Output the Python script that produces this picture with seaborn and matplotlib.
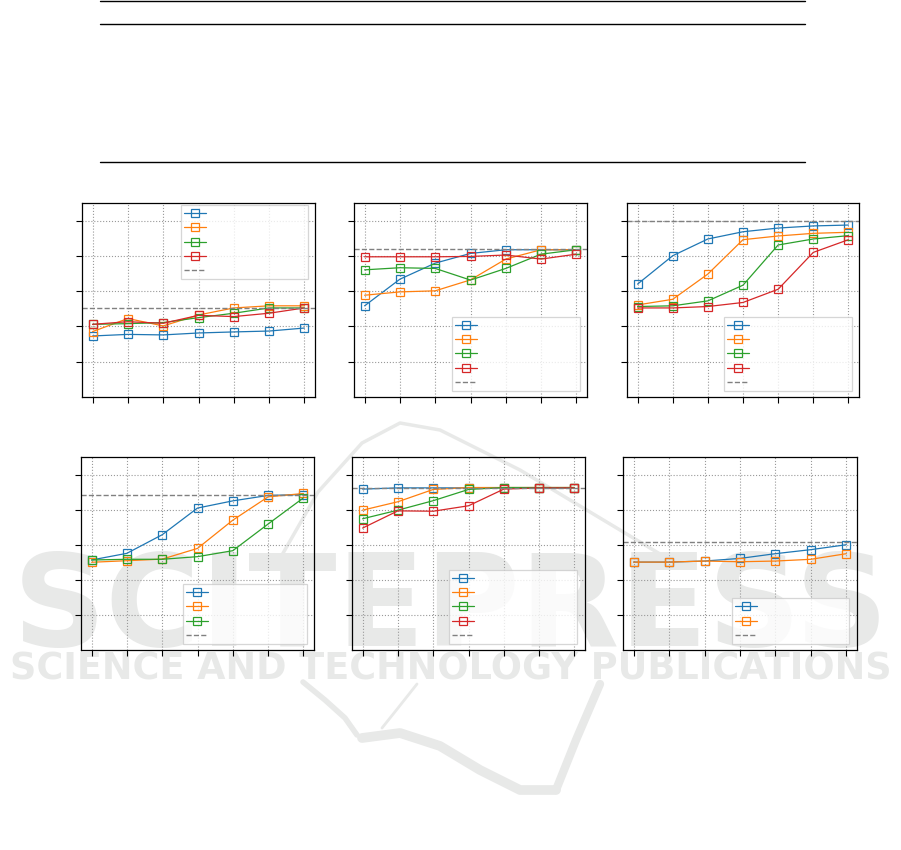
import matplotlib
matplotlib.use("Agg")
import pandas as pd
import matplotlib.pyplot as plt
import seaborn as sns
from matplotlib.lines import Line2D

# ==========================================================
# DATA
# ==========================================================

STEPS = [0, 1, 2, 3, 4, 5, 6]
Y_TICKS = [0.2, 0.4, 0.6, 0.8, 1.0]

# top row, left
A_S1 = [0.346, 0.355, 0.352, 0.363, 0.369, 0.374, 0.391]
A_S2 = [0.371, 0.445, 0.403, 0.465, 0.505, 0.517, 0.517]
A_S3 = [0.412, 0.416, 0.422, 0.450, 0.475, 0.505, 0.505]
A_S4 = [0.412, 0.427, 0.418, 0.463, 0.456, 0.475, 0.505]
A_REF = 0.507

# top row, middle
B_S1 = [0.517, 0.668, 0.759, 0.814, 0.835, 0.835, 0.835]
B_S2 = [0.577, 0.596, 0.602, 0.664, 0.782, 0.835, 0.835]
B_S3 = [0.721, 0.733, 0.729, 0.663, 0.729, 0.810, 0.835]
B_S4 = [0.795, 0.795, 0.795, 0.797, 0.805, 0.782, 0.810]
B_REF = 0.837

# top row, right
C_S1 = [0.640, 0.801, 0.896, 0.937, 0.958, 0.970, 0.975]
C_S2 = [0.522, 0.554, 0.697, 0.892, 0.913, 0.928, 0.934]
C_S3 = [0.513, 0.517, 0.545, 0.634, 0.862, 0.896, 0.915]
C_S4 = [0.505, 0.505, 0.513, 0.536, 0.611, 0.820, 0.892]
C_REF = 0.996

# bottom row, left
D_S1 = [0.513, 0.551, 0.657, 0.809, 0.850, 0.881, 0.886]
D_S2 = [0.500, 0.509, 0.518, 0.579, 0.740, 0.873, 0.892]
D_S3 = [0.513, 0.517, 0.517, 0.532, 0.566, 0.718, 0.867]
D_REF = 0.886

# bottom row, middle
E_S1 = [0.917, 0.924, 0.924, 0.924, 0.924, 0.924, 0.924]
E_S2 = [0.797, 0.845, 0.915, 0.926, 0.926, 0.926, 0.926]
E_S3 = [0.748, 0.797, 0.851, 0.915, 0.926, 0.926, 0.926]
E_S4 = [0.695, 0.793, 0.791, 0.822, 0.917, 0.924, 0.924]
E_REF = 0.926

# bottom row, right
F_S1 = [0.501, 0.501, 0.507, 0.522, 0.549, 0.572, 0.600]
F_S2 = [0.501, 0.501, 0.507, 0.503, 0.507, 0.517, 0.549]
F_REF = 0.613

# ==========================================================
# STYLE
# ==========================================================

sns.set_style("ticks")
plt.rcParams["font.family"] = ["DejaVu Sans"]

COLORS = sns.color_palette("tab10", 4)
WM_COLOR = "#e8e9e8"
W, H = 901, 850
MS = 5.8


def fig_rect(left, top, right, bottom):
    return [left / W, 1 - bottom / H, (right - left) / W, (bottom - top) / H]


def px_line(points, width):
    xs = [p[0] / W for p in points]
    ys = [1 - p[1] / H for p in points]
    return Line2D(xs, ys, color=WM_COLOR, linewidth=width,
                  solid_capstyle="round", solid_joinstyle="round",
                  transform=fig.transFigure, zorder=-6)


def draw_panel(ax, series, ref, leg_anchor, leg_loc):

    ax.set_facecolor("none")
    handles = []

    for values, color in zip(series, COLORS):
        df = pd.DataFrame({"step": STEPS, "value": values})
        sns.lineplot(
            data=df, x="step", y="value", ax=ax,
            color=color, linewidth=0.9,
            marker="s", markersize=MS,
            markerfacecolor="none", markeredgecolor=color, markeredgewidth=0.9
        )
        handles.append(Line2D([], [], color=color, linewidth=0.9, marker="s",
                              markersize=MS, markerfacecolor="none",
                              markeredgecolor=color, markeredgewidth=0.9))

    ax.axhline(ref, color="0.5", linestyle="--", linewidth=1.0)
    handles.append(Line2D([], [], color="0.5", linestyle="--", linewidth=1.0))

    ax.set_xlim(-0.3, 6.3)
    ax.set_ylim(0, 1.1)
    ax.set_xticks(STEPS)
    ax.set_yticks(Y_TICKS)
    ax.set_xlabel("")
    ax.set_ylabel("")
    ax.tick_params(labelbottom=False, labelleft=False, length=4,
                   width=0.8, direction="out", color="black")
    ax.grid(True, linestyle=":", color="0.6", linewidth=0.8)
    for sp in ax.spines.values():
        sp.set_linewidth(0.9)
        sp.set_color("black")

    leg = ax.legend(
        handles, [" "] * len(handles),
        loc=leg_loc, bbox_to_anchor=leg_anchor, mode="expand",
        borderaxespad=0, fontsize=7, handlelength=2.2,
        labelspacing=0.45, borderpad=0.35,
        fancybox=False, edgecolor="0.8", framealpha=0.8
    )
    leg.get_frame().set_linewidth(0.9)


# ==========================================================
# FIGURE
# ==========================================================

fig = plt.figure(figsize=(W / 100, H / 100), dpi=100)

# faint publisher watermark behind everything
wm1 = fig.text(0.5, 1 - 646 / H, "SCITEPRESS", ha="center", va="baseline",
               fontsize=88, fontweight="bold", color=WM_COLOR, zorder=-5)
wm2 = fig.text(0.5, 1 - 679 / H, "SCIENCE AND TECHNOLOGY PUBLICATIONS",
               ha="center", va="baseline", fontsize=22, fontweight="bold",
               color=WM_COLOR, zorder=-5)

# rough logo strokes of the watermark
logo = [
    ([(282, 555), (318, 492), (362, 443), (400, 423), (440, 430),
      (520, 470), (600, 518), (680, 566)], 2.5),
    ([(303, 682), (325, 700), (345, 718), (357, 735)], 4),
    ([(362, 738), (400, 733), (440, 746), (480, 770), (520, 790),
      (556, 790)], 7),
    ([(556, 790), (576, 740), (600, 684)], 6),
    ([(417, 684), (398, 708), (382, 728)], 2),
]
for pts, lw in logo:
    fig.add_artist(px_line(pts, lw))

# table rules above the plots
for y in [1, 24, 162]:
    fig.add_artist(Line2D([100 / W, 805 / W], [1 - y / H, 1 - y / H],
                          color="black", linewidth=1.0,
                          transform=fig.transFigure))

ax_a = fig.add_axes(fig_rect(82, 203, 315, 397))
ax_b = fig.add_axes(fig_rect(354, 203, 587, 397))
ax_c = fig.add_axes(fig_rect(627, 203, 859, 397))
ax_d = fig.add_axes(fig_rect(81, 457, 314, 650))
ax_e = fig.add_axes(fig_rect(352, 457, 585, 650))
ax_f = fig.add_axes(fig_rect(623, 457, 857, 650))

draw_panel(ax_a, [A_S1, A_S2, A_S3, A_S4], A_REF, (0.425, 0.99, 0.545, 0), "upper left")
draw_panel(ax_b, [B_S1, B_S2, B_S3, B_S4], B_REF, (0.42, 0.031, 0.55, 0), "lower left")
draw_panel(ax_c, [C_S1, C_S2, C_S3, C_S4], C_REF, (0.418, 0.031, 0.55, 0), "lower left")
draw_panel(ax_d, [D_S1, D_S2, D_S3], D_REF, (0.438, 0.031, 0.532, 0), "lower left")
draw_panel(ax_e, [E_S1, E_S2, E_S3, E_S4], E_REF, (0.416, 0.031, 0.55, 0), "lower left")
draw_panel(ax_f, [F_S1, F_S2], F_REF, (0.466, 0.031, 0.50, 0), "lower left")

# stretch the watermark lines to their measured widths
fig.canvas.draw()
renderer = fig.canvas.get_renderer()
for txt, target in [(wm1, 876), (wm2, 876)]:
    bb = txt.get_window_extent(renderer)
    txt.set_fontsize(txt.get_fontsize() * target / bb.width)

fig.savefig("out.png", dpi=100)
